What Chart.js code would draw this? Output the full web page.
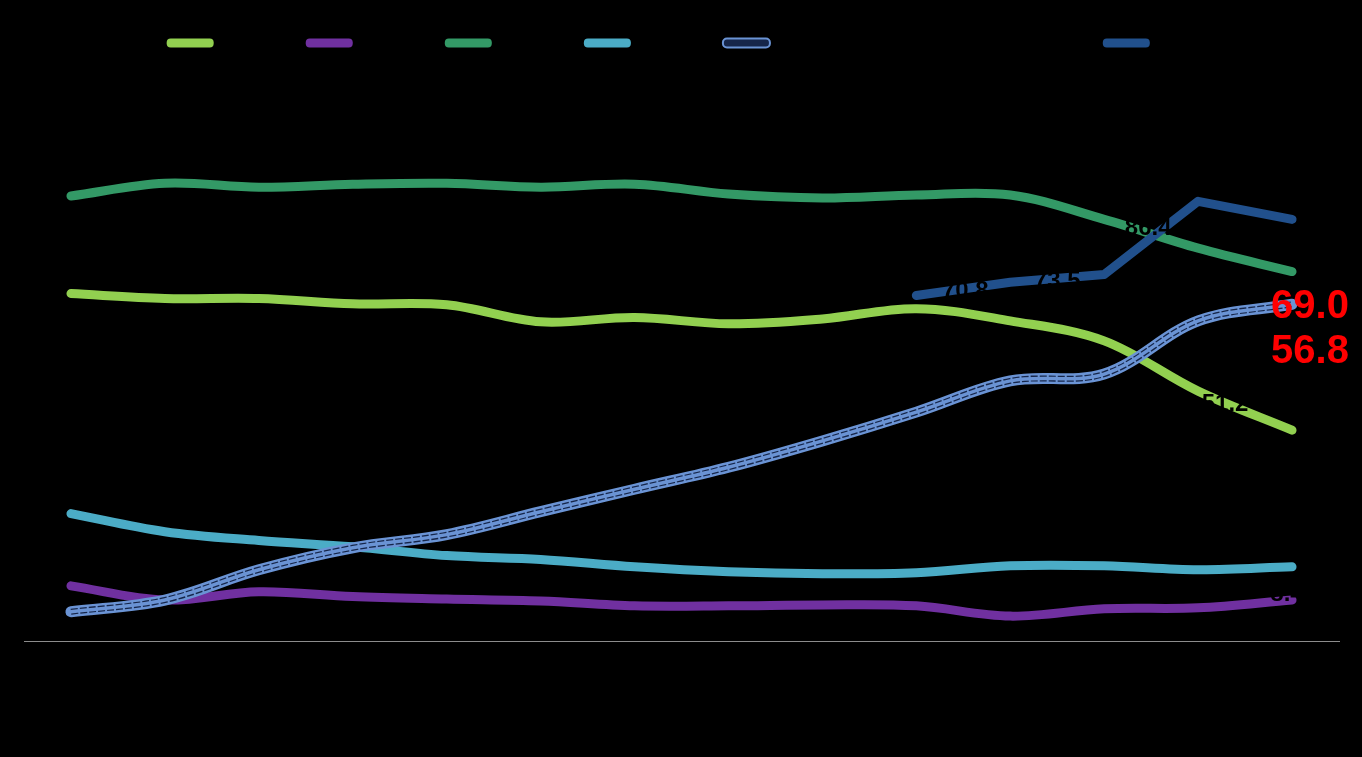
<!DOCTYPE html>
<html>
<head>
<meta charset="utf-8">
<script src="https://cdn.jsdelivr.net/npm/chart.js@4.4.1/dist/chart.umd.min.js"></script>
<style>
    html, body { margin: 0; padding: 0; background: #000; }
    #wrap { width: 1362px; height: 757px; }
</style>
</head>
<body>
<div id="wrap"><canvas id="chart"></canvas></div>
<script>
// Chart data
const years = ['2010', '2011', '2012', '2013', '2014', '2015', '2016',
    '2017', '2018', '2019', '2020', '2021', '2022', '2023'];

const seriesNames = ['Series 1', 'Series 2', 'Series 3', 'Series 4',
    'Series 5 share of all respondents', 'Se.6'];

const limeValues = [71.2, 70.2, 70.2, 69.1, 68.9, 65.4, 66.3, 65.0, 66.0, 68.1, 65.6, 61.5, 51.2, 43.2];
const purpleValues = [11.3, 8.4, 10.1, 9.1, 8.6, 8.2, 7.2, 7.2, 7.4, 7.2, 5.1, 6.6, 6.8, 8.4];
const greenValues = [91.2, 93.8, 93.0, 93.6, 93.8, 93.0, 93.6, 91.6, 90.8, 91.4, 91.4, 86.4, 80.5, 75.7];
const cyanValues = [26.1, 22.4, 20.6, 19.3, 17.5, 16.7, 15.2, 14.2, 13.8, 14.0, 15.4, 15.4, 14.6, 15.2];
const lightBlueValues = [6.0, 8.4, 14.6, 19.1, 21.8, 26.5, 31.1, 35.6, 41.0, 46.9, 53.3, 54.7, 65.6, 69.0];
const darkBlueValues = [null, null, null, null, null, null, null, null, null, 70.8, 73.5, 75.1, 90.1, 86.4];

const highlightLabels = ['69.0', '56.8'];

const COLORS = {
    lime: '#92d050',
    purple: '#7030a0',
    green: '#339966',
    cyan: '#4bacc6',
    lightBlue: '#6a93d4',
    lightBlueInner: '#16264a',
    darkBlue: '#21508c',
    axis: '#8c8c8c',
    highlight: '#ff0000',
};

function lineSet(label, data, color, extra) {
    return Object.assign({
        label,
        data,
        borderColor: color,
        backgroundColor: color,
        borderWidth: 9,
        borderCapStyle: 'round',
        borderJoinStyle: 'round',
        tension: 0.35,
        pointRadius: 0,
        pointHoverRadius: 0,
        fill: false,
        order: 5,
    }, extra || {});
}

// pushes the plot area down below the legend
const legendSpacer = {
    id: 'legendSpacer',
    beforeInit(chart) {
        const fit = chart.legend.fit;
        chart.legend.fit = function () {
            fit.bind(chart.legend)();
            this.height += 92;
        };
    },
};

// black value labels (Excel style) and the red highlight values
const valueLabels = {
    id: 'valueLabels',
    afterDatasetsDraw(chart) {
        const ctx = chart.ctx;
        ctx.save();
        ctx.textAlign = 'center';
        ctx.textBaseline = 'middle';
        chart.data.datasets.forEach((ds, i) => {
            if (!ds.labelAt) return;
            const meta = chart.getDatasetMeta(i);
            ctx.font = 'bold 24px "Liberation Sans", Arial, sans-serif';
            ctx.fillStyle = '#000';
            Object.keys(ds.labelAt).forEach((idx) => {
                const pt = meta.data[idx];
                const [dx, dy] = ds.labelAt[idx];
                ctx.fillText(ds.data[idx].toFixed(1), pt.x + dx, pt.y + dy);
            });
        });
        const lbIndex = chart.data.datasets.findIndex(ds => ds.highlight);
        const lbMeta = chart.getDatasetMeta(lbIndex);
        const last = lbMeta.data[lbMeta.data.length - 1];
        ctx.font = 'bold 40px "Liberation Sans", Arial, sans-serif';
        ctx.fillStyle = COLORS.highlight;
        highlightLabels.forEach((txt, k) => {
            ctx.fillText(txt, last.x + 18, last.y + 3 + k * 45);
        });
        ctx.restore();
    },
};

new Chart(document.getElementById('chart'), {
    type: 'line',
    data: {
        labels: years,
        datasets: [
            lineSet(seriesNames[0], limeValues, COLORS.lime, { labelAt: { 12: [27, 13] } }),
            lineSet(seriesNames[1], purpleValues, COLORS.purple, { labelAt: { 11: [36, -14], 13: [-5, -6] } }),
            lineSet(seriesNames[2], greenValues, COLORS.green, { labelAt: { 11: [44, 9] } }),
            lineSet(seriesNames[3], cyanValues, COLORS.cyan, { labelAt: { 12: [-8, 16] } }),
            lineSet(seriesNames[4], lightBlueValues, COLORS.lightBlue, {
                borderWidth: 11, order: 3, highlight: true,
                legendFill: COLORS.lightBlueInner, legendStroke: COLORS.lightBlue,
            }),
            lineSet(seriesNames[4], lightBlueValues, COLORS.lightBlueInner, {
                borderWidth: 6, borderDash: [7, 2], borderCapStyle: 'butt', order: 2, hideInLegend: true,
            }),
            lineSet(seriesNames[4], lightBlueValues, COLORS.lightBlue, {
                borderWidth: 3.5, order: 1, hideInLegend: true,
            }),
            lineSet(seriesNames[5], darkBlueValues, COLORS.darkBlue, {
                tension: 0, order: 0, labelAt: { 9: [49, -4], 10: [47, -1] },
            }),
        ],
    },
    options: {
        responsive: true,
        maintainAspectRatio: false,
        animation: false,
        layout: { padding: { top: 28, left: 24, right: 23, bottom: 0 } },
        scales: {
            x: {
                offset: true,
                grid: { display: false, drawTicks: false },
                border: { display: true, color: COLORS.axis, width: 1 },
                ticks: { color: '#000', font: { size: 16 } },
                afterFit: (scale) => { scale.height = 116; },
            },
            y: {
                display: false,
                min: 0,
                max: 100,
            },
        },
        plugins: {
            legend: {
                position: 'top',
                labels: {
                    color: '#000',
                    font: { family: '"DejaVu Sans Mono", monospace', size: 16 },
                    boxWidth: 47,
                    boxHeight: 9,
                    padding: 7,
                    useBorderRadius: true,
                    borderRadius: 4,
                    generateLabels: (chart) => chart.data.datasets
                        .map((ds, i) => ({ ds, i }))
                        .filter(({ ds }) => !ds.hideInLegend)
                        .map(({ ds, i }) => ({
                            text: ds.label,
                            fillStyle: ds.legendFill || ds.borderColor,
                            strokeStyle: ds.legendStroke || ds.borderColor,
                            lineWidth: ds.legendStroke ? 2 : 0,
                            borderRadius: 4,
                            fontColor: '#000',
                            hidden: false,
                            datasetIndex: i,
                        })),
                },
            },
            tooltip: { enabled: false },
        },
    },
    plugins: [legendSpacer, valueLabels],
});
</script>
</body>
</html>
